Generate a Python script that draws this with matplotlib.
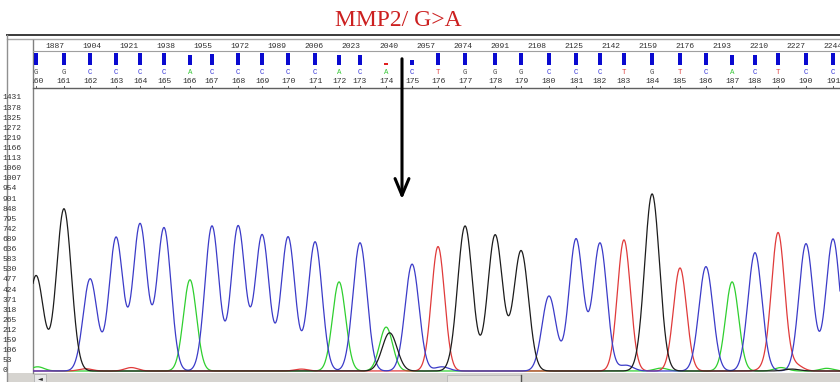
import numpy as np
import matplotlib
matplotlib.use('Agg')
import matplotlib.pyplot as plt
from matplotlib.patches import Rectangle
import matplotlib.transforms as mtransforms

# Base calls (positions 160-191), scan position of each call, and peak height of the called base
base_numbers = list(range(160, 192))
base_calls = list("GGCCCCACCCCCACACTGGGCCCTGTCACTCC")
base_scans = [1878.3, 1891.1, 1903.1, 1915.0, 1926.0, 1937.0, 1948.9, 1959.0,
              1971.0, 1982.0, 1993.9, 2006.3, 2017.3, 2026.9, 2038.9, 2050.8,
              2062.7, 2075.1, 2088.9, 2100.8, 2113.6, 2126.0, 2137.0, 2148.0,
              2160.9, 2173.7, 2185.6, 2197.6, 2208.1, 2218.7, 2231.5, 2243.9]
peak_heights = [500, 850, 483, 700, 770, 750, 478, 760,
                760, 713, 703, 677, 467, 672, 230, 560,
                652, 760, 713, 630, 393, 692, 670, 687,
                928, 540, 547, 467, 620, 723, 667, 692]
quality = [60, 60, 60, 60, 60, 60, 50, 55,
           60, 60, 60, 60, 50, 50, 12, 25,
           60, 60, 60, 60, 60, 60, 60, 60,
           60, 60, 60, 50, 50, 60, 60, 60]

# Secondary / background peaks: (base, scan, height)
extra_peaks = [("G", 2040.5, 200),   # heterozygous G under the A call at 174
               ("C", 2064.5, 22), ("C", 2149.0, 30),
               ("A", 1879.0, 22), ("A", 2165.0, 15), ("A", 2220.0, 18), ("A", 2241.0, 14),
               ("T", 1901.0, 12), ("T", 1922.0, 18), ("T", 2213.0, 14), ("T", 2227.0, 30),
               ("T", 2000.0, 10), ("G", 2225.0, 10)]

scan_ticks = list(range(1887, 2245, 17))
y_ticks = list(range(0, 1432, 53))

colors = {"C": "#3b3bc8", "G": "#1c1c1c", "A": "#2fcf2f", "T": "#e03a3a"}
letter_colors = {"C": "#3434d8", "G": "#505050", "A": "#38c838", "T": "#e04444"}
widths = {"C": 3.2, "G": 3.4, "A": 3.0, "T": 3.0}

xmin, xmax = 1876.9, 2247.1

fig = plt.figure(figsize=(8.4, 3.82), dpi=100)

# background axes in pixel units for frame and scrollbar
bg = fig.add_axes([0, 0, 1, 1])
bg.set_xlim(0, 840)
bg.set_ylim(382, 0)
bg.axis('off')
bg.plot([7, 840], [35, 35], color='#3a3a3a', lw=1.4)
bg.plot([7, 840], [39, 39], color='#a8a8a8', lw=1)
bg.plot([7, 7], [35, 382], color='#909090', lw=1)
bg.plot([33, 33], [40, 373], color='#808080', lw=1)
bg.plot([33, 840], [51, 51], color='#a0a0a0', lw=0.8)
bg.plot([33, 840], [88, 88], color='#606060', lw=1)
bg.add_patch(Rectangle((7, 373), 833, 9, color='#d6d4d0', lw=0))
bg.add_patch(Rectangle((34, 374), 12, 8, facecolor='#e8e8e8', edgecolor='#b0b0b0', lw=0.6))
bg.text(40, 378.5, '\u25c4', fontsize=4.5, ha='center', va='center', color='#202020')
bg.add_patch(Rectangle((447, 375), 74, 7, facecolor='#e2e0dc', edgecolor='#b8b8b8', lw=0.6))
bg.plot([521, 521], [375, 382], color='#505050', lw=1)
bg.text(398, 20, 'MMP2/ G>A', fontsize=17, color='#cc2020', family='Liberation Serif',
        ha='center', va='center')
bg.annotate('', xy=(402, 202), xytext=(402, 56),
            arrowprops=dict(arrowstyle='->,head_length=1.2,head_width=0.5', lw=2.2,
                            color='black'))

# trace axes
ax = fig.add_axes([33 / 840, 9 / 382, 807 / 840, 285 / 382])
ax.patch.set_visible(False)
ax.set_xlim(xmin, xmax)
ax.set_ylim(-10.5, 1483)
for s in ax.spines.values():
    s.set_visible(False)
ax.set_xticks([])
ax.set_yticks([])

x = np.linspace(xmin, xmax, 3000)
traces = {b: np.zeros_like(x) for b in "CGAT"}
for b, s, h in zip(base_calls, base_scans, peak_heights):
    traces[b] += h * np.exp(-0.5 * ((x - s) / widths[b]) ** 2)
for b, s, h in extra_peaks:
    traces[b] += h * np.exp(-0.5 * ((x - s) / widths[b]) ** 2)
for b in "ATCG":
    ax.plot(x, traces[b], color=colors[b], lw=0.9)

# y labels, left aligned in the label column
ylab = mtransforms.blended_transform_factory(fig.transFigure, ax.transData)
for v in y_ticks:
    ax.text(2.5 / 840, v, str(v), transform=ylab, fontsize=5.8, family='Liberation Mono',
            color='#303030', ha='left', va='center')

# header: scan numbers, quality bars, base letters, base numbers
hx = fig.add_axes([33 / 840, 294 / 382, 807 / 840, 48 / 382])
hx.patch.set_visible(False)
hx.set_xlim(xmin, xmax)
hx.set_ylim(88, 40)
hx.axis('off')
for s in scan_ticks:
    hx.text(s, 46.5, str(s), fontsize=5.8, family='Liberation Mono', color='#303030',
            ha='center', va='center', clip_on=True)
for b, s, q, n in zip(base_calls, base_scans, quality, base_numbers):
    hgt = q * 12 / 60
    hx.bar(s, hgt, bottom=65 - hgt, width=1.6,
           color='#e02020' if q < 20 else '#0a0ad0')
    hx.text(s, 72, b, fontsize=5.3, family='Liberation Mono', color=letter_colors[b],
            ha='center', va='center')
    hx.text(s, 81.5, str(n), fontsize=5.8, family='Liberation Mono', color='#303030',
            ha='center', va='center', clip_on=True)
    hx.plot([s, s], [88, 85.5], color='#606060', lw=0.7)

fig.savefig('out.png', dpi=100)
